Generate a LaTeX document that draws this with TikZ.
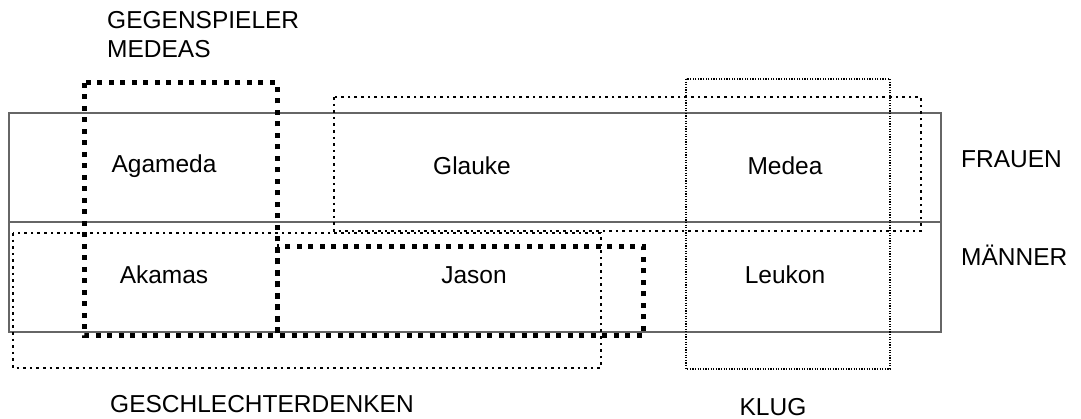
\documentclass[tikz,border=0pt]{standalone}
\usepackage{fontspec}
\setmainfont{Liberation Sans}
\begin{document}
\begin{tikzpicture}[x=1pt,y=-1pt,
  grid/.style={draw=black!60,line width=1.3pt},
  thickdots/.style={draw=black,line width=5pt,dash pattern=on 5pt off 6.5pt},
  middots/.style={draw=black,line width=2.6pt,dash pattern=on 2.6pt off 4pt},
  finedots/.style={draw=black,line width=1.2pt,dash pattern=on 1.2pt off 1.4pt},
  lbl/.style={font=\fontsize{24.5}{29}\selectfont,inner sep=0pt}]
\useasboundingbox (0,0) rectangle (1081,419);
% table
\draw[grid] (9,113) rectangle (941,332);
\draw[grid] (9,222) -- (941,222);
% cell texts
\node[lbl] (agameda) at (164,166) {Agameda};
\node[lbl] (glauke) at (472,166) {Glauke};
\node[lbl] (medea) at (785,166) {Medea};
\node[lbl] (akamas) at (164,275) {Akamas};
\node[lbl] (jason) at (474,275) {Jason};
\node[lbl] (leukon) at (785,275) {Leukon};
% groups
\draw[finedots] (686,79) rectangle (890,369);
\draw[middots] (334,97) rectangle (921,231);
\draw[middots] (13,233) rectangle (601,368);
\draw[thickdots] (84,83) rectangle (277,336);
\draw[thickdots] (277,247) rectangle (643,336);
% side labels
\node[lbl,anchor=west] (frauen) at (961,159) {FRAUEN};
\node[lbl,anchor=west] (maenner) at (961,255) {MÄNNER};
\node[lbl,anchor=north west,align=left,font=\fontsize{24.5}{29.5}\selectfont] (gegen) at (107,11) {GEGENSPIELER\\MEDEAS};
\node[lbl] (geschl) at (262,404) {GESCHLECHTERDENKEN};
\node[lbl] (klug) at (773,407) {KLUG};
\end{tikzpicture}
\end{document}
